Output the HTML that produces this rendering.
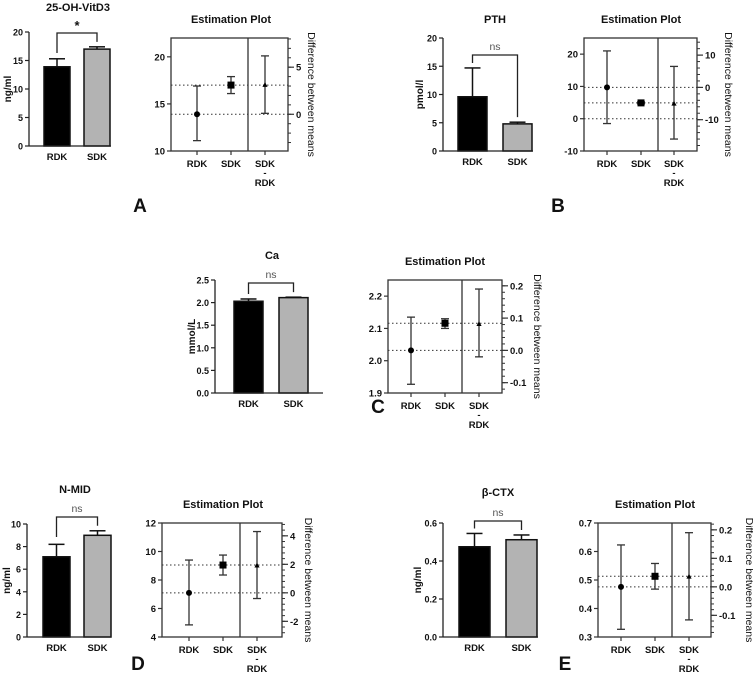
<!DOCTYPE html>
<html><head><meta charset="utf-8"><style>
html,body{margin:0;padding:0;background:#fff;}
svg{display:block;font-family:"Liberation Sans",sans-serif;}
text{font-weight:bold;fill:#111;}
</style></head><body>
<svg id="fig" width="753" height="675" viewBox="0 0 753 675" xmlns="http://www.w3.org/2000/svg"></svg>
<script>
// ---- data ----
const groups = ['RDK', 'SDK'];
const estCats = ['RDK', 'SDK', 'SDK-RDK'];

const barMeansA = [13.9, 17.0];  const barErrA = [15.3, 17.4];
const estMeanA = [13.9, 17.0];   const estLoA = [11.1, 16.1];  const estHiA = [16.9, 17.9];
const diffA = [3.1];             const diffLoA = [0.1];        const diffHiA = [6.2];
const barTicksA = [0, 5, 10, 15, 20]; const estTicksA = [10, 15, 20]; const diffTicksA = [0, 5];

const barMeansB = [9.6, 4.8];    const barErrB = [14.7, 5.1];
const estMeanB = [9.7, 4.9];     const estLoB = [-1.5, 4.6];   const estHiB = [21, 5.2];
const diffB = [-5.1];            const diffLoB = [-16.0];      const diffHiB = [6.5];
const barTicksB = [0, 5, 10, 15, 20]; const estTicksB = [-10, 0, 10, 20]; const diffTicksB = [-10, 0, 10];

const barMeansC = [2.03, 2.11];  const barErrC = [2.08, 2.12];
const estMeanC = [2.032, 2.116]; const estLoC = [1.927, 2.10]; const estHiC = [2.135, 2.13];
const diffC = [0.081];           const diffLoC = [-0.02];      const diffHiC = [0.19];
const barTicksC = [0, 0.5, 1.0, 1.5, 2.0, 2.5]; const estTicksC = [1.9, 2.0, 2.1, 2.2]; const diffTicksC = [-0.1, 0, 0.1, 0.2];

const barMeansD = [7.1, 9.0];    const barErrD = [8.2, 9.4];
const estMeanD = [7.1, 9.05];    const estLoD = [4.85, 8.35];  const estHiD = [9.4, 9.75];
const diffD = [1.9];             const diffLoD = [-0.4];       const diffHiD = [4.3];
const barTicksD = [0, 2, 4, 6, 8, 10]; const estTicksD = [4, 6, 8, 10, 12]; const diffTicksD = [-2, 0, 2, 4];

const barMeansE = [0.475, 0.512]; const barErrE = [0.545, 0.537];
const estMeanE = [0.476, 0.513];  const estLoE = [0.327, 0.468]; const estHiE = [0.623, 0.558];
const diffE = [0.035];            const diffLoE = [-0.116];      const diffHiE = [0.19];
const barTicksE = [0, 0.2, 0.4, 0.6]; const estTicksE = [0.3, 0.4, 0.5, 0.6, 0.7]; const diffTicksE = [-0.1, 0, 0.1, 0.2];

// ---- rendering ----
const NS = 'http://www.w3.org/2000/svg';
const svg = document.getElementById('fig');
function el(tag, attrs, parent, txt) {
  const e = document.createElementNS(NS, tag);
  for (const k in attrs) e.setAttribute(k, attrs[k]);
  if (txt !== undefined) e.textContent = txt;
  (parent || svg).appendChild(e);
  return e;
}
function lin(d0, d1, r0, r1) { return v => r0 + (v - d0) / (d1 - d0) * (r1 - r0); }

function drawPanel(id, P, L) {
  const g = el('g', {});
  
  
  const B = L.bar;
  const y = lin(0, P.barTicks[P.barTicks.length - 1], B.y1, B.y0);
  const t = el('text', {x: B.tx, y: B.ty, 'text-anchor': 'middle', 'font-size': 11}, g, P.title);
  
  
  const yl = el('text', {x: 0, y: 0, 'text-anchor': 'middle', 'font-size': 10, transform: `translate(${B.ylx},${(B.y0 + B.y1) / 2}) rotate(-90)`}, g, P.ylabel);
  
  
  for (let i = 0; i < groups.length; i++) {
    const [x1, x2] = B.bars[i];
    const cx = (x1 + x2) / 2;
    const eb = el('line', {x1: cx, x2: cx, y1: y(P.barMeans[i]), y2: y(P.barErr[i]), stroke: '#111', 'stroke-width': 1.5}, g);
    
    
    el('line', {x1: cx - 8, x2: cx + 8, y1: y(P.barErr[i]), y2: y(P.barErr[i]), stroke: '#111', 'stroke-width': 1.5}, g);
    const r = el('rect', {x: x1, y: y(P.barMeans[i]), width: x2 - x1, height: y(0) - y(P.barMeans[i]), fill: i === 0 ? '#000' : '#b3b3b3', stroke: '#111', 'stroke-width': 1.5}, g);
    
    
    const xl = el('text', {x: cx, y: B.y1 + 14, 'text-anchor': 'middle', 'font-size': 9.5}, g, groups[i]);
    
    
  }
  el('line', {x1: B.ax, x2: B.ax, y1: B.y0, y2: B.y1, stroke: '#222', 'stroke-width': 1.3}, g);
  el('line', {x1: B.ax, x2: B.xEnd, y1: B.y1, y2: B.y1, stroke: '#222', 'stroke-width': 1.3}, g);
  P.barTicks.forEach(v => {
    el('line', {x1: B.ax - 4, x2: B.ax, y1: y(v), y2: y(v), stroke: '#222', 'stroke-width': 1.2}, g);
    const tl = el('text', {x: B.ax - 6, y: y(v) + 3.5, 'text-anchor': 'end', 'font-size': 9}, g, v.toFixed(P.dec));
    
    
  });
  const c0 = (B.bars[0][0] + B.bars[0][1]) / 2, c1 = (B.bars[1][0] + B.bars[1][1]) / 2;
  const by = B.by;
  const br = el('path', {d: `M${c0},${Math.min(y(P.barErr[0]) - 5, by + 20)} L${c0},${by} L${c1},${by} L${c1},${Math.min(y(P.barErr[1]) - 5, B.y1)}`, fill: 'none', stroke: '#222', 'stroke-width': 1.3}, g);
  
  
  const sg = el('text', {x: (c0 + c1) / 2, y: by - (P.sig === '*' ? 3 : 5), 'text-anchor': 'middle', 'font-size': P.sig === '*' ? 13 : 10.5, style: P.sig === '*' ? '' : 'font-weight:normal;fill:#555'}, g, P.sig);
  
  

  const E = L.est;
  const ey = lin(P.estTicks[0], P.estMax, E.y1, E.y0);
  const et = el('text', {x: (E.xs[1]), y: E.ty, 'text-anchor': 'middle', 'font-size': 11}, g, 'Estimation Plot');
  
  
  const box = el('rect', {x: E.x0, y: E.y0, width: E.x1 - E.x0, height: E.y1 - E.y0, fill: 'none', stroke: '#333', 'stroke-width': 1.3}, g);
  
  
  el('line', {x1: E.xd, x2: E.xd, y1: E.y0, y2: E.y1, stroke: '#333', 'stroke-width': 1.3}, g);
  const refs = [P.estMean[0], P.estMean[1]];
  if (P.estTicks[0] < 0 && P.estMax > 0) refs.push(0);
  refs.forEach(v => {
    const dl = el('line', {x1: E.x0, x2: E.x1, y1: ey(v), y2: ey(v), stroke: '#333', 'stroke-width': 1, 'stroke-dasharray': '1.5,2.5'}, g);
    
    
  });
  P.estTicks.forEach(v => {
    el('line', {x1: E.x0 - 4, x2: E.x0, y1: ey(v), y2: ey(v), stroke: '#333', 'stroke-width': 1.2}, g);
    const tl = el('text', {x: E.x0 - 6, y: ey(v) + 3.5, 'text-anchor': 'end', 'font-size': 9.5}, g, v.toFixed(P.estDec));
    
    
  });
  const base = P.estMean[0];
  const dy = v => ey(v + base);
  const step = P.diffTicks[1] - P.diffTicks[0];
  const minor = step / 5;
  const dMin = P.estTicks[0] - base, dMax = P.estMax - base;
  for (let k = Math.ceil(dMin / minor); k * minor <= dMax + 1e-9; k++) {
    const yy = dy(k * minor);
    el('line', {x1: E.x1, x2: E.x1 + 3, y1: yy, y2: yy, stroke: '#333', 'stroke-width': 1}, g);
  }
  P.diffTicks.forEach(v => {
    el('line', {x1: E.x1, x2: E.x1 + 6, y1: dy(v), y2: dy(v), stroke: '#333', 'stroke-width': 1.2}, g);
    const tl = el('text', {x: E.x1 + 8, y: dy(v) + 3.5, 'text-anchor': 'start', 'font-size': 9.5}, g, v === 0 ? (P.diffDec ? (0).toFixed(P.diffDec) : '0') : v.toFixed(P.diffDec));
    
    
  });
  const rl = el('text', {x: 0, y: 0, 'text-anchor': 'middle', 'font-size': 10.5, style: 'font-weight:normal', transform: `translate(${E.rlx},${(E.y0 + E.y1) / 2}) rotate(90)`}, g, 'Difference between means');
  
  
  const pts = [
    [P.estMean[0], P.estLo[0], P.estHi[0]],
    [P.estMean[1], P.estLo[1], P.estHi[1]],
    [P.diff[0] + base, P.diffLo[0] + base, P.diffHi[0] + base]
  ];
  pts.forEach((p, i) => {
    const x = E.xs[i];
    const eb = el('line', {x1: x, x2: x, y1: ey(p[1]), y2: ey(p[2]), stroke: '#333', 'stroke-width': 1.3}, g);
    
    
    [p[1], p[2]].forEach(v => el('line', {x1: x - 4, x2: x + 4, y1: ey(v), y2: ey(v), stroke: '#333', 'stroke-width': 1.3}, g));
    let m;
    if (i === 0) m = el('circle', {cx: x, cy: ey(p[0]), r: 3, fill: '#000'}, g);
    else if (i === 1) m = el('rect', {x: x - 3.5, y: ey(p[0]) - 3.5, width: 7, height: 7, fill: '#000'}, g);
    else m = el('path', {d: `M${x},${ey(p[0]) - 3} L${x + 2.6},${ey(p[0]) + 1.8} L${x - 2.6},${ey(p[0]) + 1.8}Z`, fill: '#000'}, g);
    
    
    el('line', {x1: x, x2: x, y1: E.y1, y2: E.y1 + 4, stroke: '#333', 'stroke-width': 1.2}, g);
  });
  ['RDK', 'SDK', 'SDK'].forEach((s, i) => {
    const tl = el('text', {x: E.xs[i], y: E.y1 + 16, 'text-anchor': 'middle', 'font-size': 9.5}, g, s);
    
    
  });
  el('text', {x: E.xs[2], y: E.y1 + 25, 'text-anchor': 'middle', 'font-size': 9.5}, g, '-');
  el('text', {x: E.xs[2], y: E.y1 + 35, 'text-anchor': 'middle', 'font-size': 9.5}, g, 'RDK');
  const lt = el('text', {x: L.lx, y: L.ly, 'text-anchor': 'middle', 'font-size': 19, style: 'font-weight:900'}, g, id);
  
  
}

drawPanel('A',
  {title: '25-OH-VitD3', ylabel: 'ng/ml', sig: '*', dec: 0, estDec: 0, diffDec: 0, estMax: 22,
   barMeans: barMeansA, barErr: barErrA, barTicks: barTicksA, estMean: estMeanA, estLo: estLoA, estHi: estHiA,
   diff: diffA, diffLo: diffLoA, diffHi: diffHiA, estTicks: estTicksA, diffTicks: diffTicksA},
  {bar: {tx: 78, ty: 11, ylx: 11, ax: 29, xEnd: 111, y0: 32, y1: 146, bars: [[44, 70], [84, 110]], by: 33},
   est: {x0: 171, x1: 288, y0: 38, y1: 151, xd: 248, xs: [197, 231, 265], ty: 23, rlx: 308},
   lx: 140, ly: 212});

drawPanel('B',
  {title: 'PTH', ylabel: 'pmol/l', sig: 'ns', dec: 0, estDec: 0, diffDec: 0, estMax: 25,
   barMeans: barMeansB, barErr: barErrB, barTicks: barTicksB, estMean: estMeanB, estLo: estLoB, estHi: estHiB,
   diff: diffB, diffLo: diffLoB, diffHi: diffHiB, estTicks: estTicksB, diffTicks: diffTicksB},
  {bar: {tx: 495, ty: 23, ylx: 423, ax: 443, xEnd: 533, y0: 38, y1: 151, bars: [[458, 487], [503, 532]], by: 55},
   est: {x0: 584, x1: 697, y0: 38, y1: 151, xd: 658, xs: [607, 641, 674], ty: 23, rlx: 725},
   lx: 558, ly: 212});

drawPanel('C',
  {title: 'Ca', ylabel: 'mmol/L', sig: 'ns', dec: 1, estDec: 1, diffDec: 1, estMax: 2.25,
   barMeans: barMeansC, barErr: barErrC, barTicks: barTicksC, estMean: estMeanC, estLo: estLoC, estHi: estHiC,
   diff: diffC, diffLo: diffLoC, diffHi: diffHiC, estTicks: estTicksC, diffTicks: diffTicksC},
  {bar: {tx: 272, ty: 259, ylx: 195, ax: 215, xEnd: 323, y0: 280, y1: 393, bars: [[234, 263], [279, 308]], by: 283},
   est: {x0: 388, x1: 502, y0: 280, y1: 393, xd: 462, xs: [411, 445, 479], ty: 265, rlx: 534},
   lx: 378, ly: 413});

drawPanel('D',
  {title: 'N-MID', ylabel: 'ng/ml', sig: 'ns', dec: 0, estDec: 0, diffDec: 0, estMax: 12,
   barMeans: barMeansD, barErr: barErrD, barTicks: barTicksD, estMean: estMeanD, estLo: estLoD, estHi: estHiD,
   diff: diffD, diffLo: diffLoD, diffHi: diffHiD, estTicks: estTicksD, diffTicks: diffTicksD},
  {bar: {tx: 75, ty: 493, ylx: 10, ax: 27, xEnd: 111, y0: 524, y1: 637, bars: [[43, 70], [84, 111]], by: 517},
   est: {x0: 162, x1: 282, y0: 523, y1: 637, xd: 240, xs: [189, 223, 257], ty: 508, rlx: 305},
   lx: 138, ly: 670});

drawPanel('E',
  {title: 'β-CTX', ylabel: 'ng/ml', sig: 'ns', dec: 1, estDec: 1, diffDec: 1, estMax: 0.7,
   barMeans: barMeansE, barErr: barErrE, barTicks: barTicksE, estMean: estMeanE, estLo: estLoE, estHi: estHiE,
   diff: diffE, diffLo: diffLoE, diffHi: diffHiE, estTicks: estTicksE, diffTicks: diffTicksE},
  {bar: {tx: 498, ty: 496, ylx: 421, ax: 443, xEnd: 538, y0: 523, y1: 637, bars: [[459, 490], [506, 537]], by: 521},
   est: {x0: 598, x1: 711, y0: 523, y1: 637, xd: 672, xs: [621, 655, 689], ty: 508, rlx: 746},
   lx: 565, ly: 670});
</script>
</body></html>
